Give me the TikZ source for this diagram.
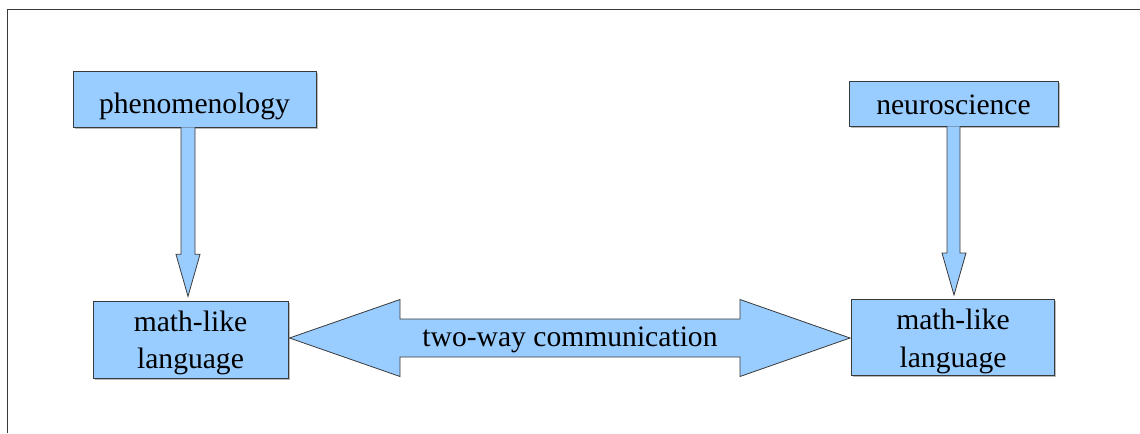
\documentclass[tikz,border=0pt]{standalone}
\usepackage{fontspec}
\setmainfont{Liberation Serif}
\usetikzlibrary{calc,shadows}
\definecolor{boxblue}{HTML}{99CCFF}
\definecolor{edgegray}{HTML}{3A3A3A}
\newcommand\shiftdown[2]{\raisebox{-#1}[\height][\depth]{#2}}
\tikzset{
  labelfont/.style={font=\fontsize{22.2}{27.8}\selectfont},
  bluebox/.style={draw=edgegray, line width=0.7pt, fill=boxblue, inner sep=0pt,
    labelfont,
    drop shadow={shadow xshift=1.2pt, shadow yshift=-1.2pt, opacity=0.55, fill=gray}},
  bigarrow/.style={draw=edgegray, line width=0.6pt, fill=boxblue, line join=miter},
  frameline/.style={draw=edgegray, line width=1.1pt}
}
\begin{document}
\begin{tikzpicture}[x=0.75pt,y=-0.75pt]
\useasboundingbox (0,0) rectangle (1140,433);
\fill[white] (0,0) rectangle (1140,433);
% frame
\draw[frameline] (7.5,433) -- (7.5,9.5) -- (1140,9.5);

% boxes
\node[bluebox, minimum width=243*0.75pt, minimum height=56*0.75pt] (phen) at (194.5,99)
  {\shiftdown{5.2pt}{phenomenology}};
\node[bluebox, minimum width=209*0.75pt, minimum height=45*0.75pt] (neuro) at (953.5,103.5)
  {\shiftdown{1.3pt}{neuroscience}};
\node[bluebox, minimum width=195*0.75pt, minimum height=77*0.75pt] (mll) at (190.5,340)
  {\shiftdown{2.1pt}{\begin{tabular}{@{}c@{}}math-like\\language\end{tabular}}};
\node[bluebox, minimum width=203*0.75pt, minimum height=76*0.75pt] (mlr) at (953,337.5)
  {\shiftdown{2.7pt}{\begin{tabular}{@{}c@{}}math-like\\language\end{tabular}}};

% left vertical arrow
\draw[bigarrow]
  ($(phen.south -| mll.north)+(-9.5,0)$) --
  ($(mll.north)+(-9.5,-46.7)$) --
  ($(mll.north)+(-14.5,-46.7)$) --
  ($(mll.north)+(-2.5,-4.7)$) --
  ($(mll.north)+(9.5,-46.7)$) --
  ($(mll.north)+(4.5,-46.7)$) --
  ($(phen.south -| mll.north)+(4.5,0)$);

% right vertical arrow
\draw[bigarrow]
  ($(neuro.south -| mlr.north)+(-6,0)$) --
  ($(mlr.north)+(-6,-46)$) --
  ($(mlr.north)+(-11,-46)$) --
  ($(mlr.north)+(1,-4)$) --
  ($(mlr.north)+(13,-46)$) --
  ($(mlr.north)+(7,-46)$) --
  ($(neuro.south -| mlr.north)+(7,0)$);

% two-way arrow
\coordinate (lt) at ($(mll.east)+(1,-2)$);
\coordinate (rt) at ($(mlr.west)+(-1,0.5)$);
\draw[bigarrow]
  (lt) -- (400,299.5) -- (400,319) -- (740,319) -- (740,299.5) -- (rt)
  -- (740,376.5) -- (740,357) -- (400,357) -- (400,376.5) -- cycle;
\node[labelfont, inner sep=0pt] (twoway) at (570,340) {two-way communication};
\end{tikzpicture}
\end{document}
